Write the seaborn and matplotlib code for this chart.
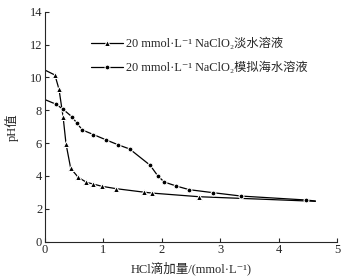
import numpy as np
import seaborn as sns
import matplotlib.pyplot as plt

# fresh water NaClO2 (triangles)
fresh_x = [0.0, 0.17, 0.24, 0.31, 0.36, 0.44, 0.57, 0.71, 0.83, 0.97, 1.22, 1.69, 1.84, 2.64, 4.63]
fresh_ph = [10.45, 10.15, 9.28, 7.6, 5.95, 4.46, 3.91, 3.61, 3.5, 3.37, 3.22, 3.01, 2.95, 2.73, 2.45]

# simulated seawater NaClO2 (circles)
sea_x = [0.0, 0.19, 0.31, 0.46, 0.55, 0.64, 0.83, 1.05, 1.25, 1.45, 1.8, 1.93, 2.04, 2.25, 2.47, 2.87, 3.36, 4.47, 4.63]
sea_ph = [8.65, 8.37, 8.06, 7.61, 7.2, 6.8, 6.52, 6.19, 5.9, 5.64, 4.65, 4.01, 3.63, 3.38, 3.16, 2.98, 2.77, 2.53, 2.47]

labels = ["20 mmol·L⁻¹ NaClO₂淡水溶液", "20 mmol·L⁻¹ NaClO₂模拟海水溶液"]

sns.set_style("ticks")
plt.rcParams['font.family'] = ['Liberation Serif', 'Noto Sans CJK SC', 'DejaVu Sans']
plt.rcParams['xtick.direction'] = 'in'
plt.rcParams['ytick.direction'] = 'in'

fig = plt.figure(figsize=(3.53, 2.79), dpi=100)
ax = fig.add_axes([45 / 353, 1 - 241.5 / 279, 292 / 353, 229.6 / 279])

sns.lineplot(x=fresh_x, y=fresh_ph, ax=ax, color='black', lw=0.9, marker='^', ms=4,
             markevery=slice(1, -1), label=labels[0])
sns.lineplot(x=sea_x, y=sea_ph, ax=ax, color='black', lw=0.9, marker='o', ms=3.5,
             markevery=slice(1, -1), label=labels[1])

ax.set_xlim(0, 5)
ax.set_ylim(0, 14)
ax.set_xticks(range(0, 6))
ax.set_yticks(range(0, 15, 2))
ax.tick_params(labelsize=9, length=3, width=0.8, pad=2)
sns.despine(ax=ax)
for s in ['left', 'bottom']:
    ax.spines[s].set_linewidth(0.8)

ax.set_xlabel("HCl滴加量/(mmol·L⁻¹)", fontsize=9, labelpad=4)
ax.set_ylabel("pH值", fontsize=9, labelpad=8)

ax.legend(loc='upper left', bbox_to_anchor=(0.12, 0.935), frameon=False, fontsize=8.8,
          handlelength=2.6, labelspacing=0.95, handletextpad=0.3)

fig.savefig("out.png", dpi=100)
